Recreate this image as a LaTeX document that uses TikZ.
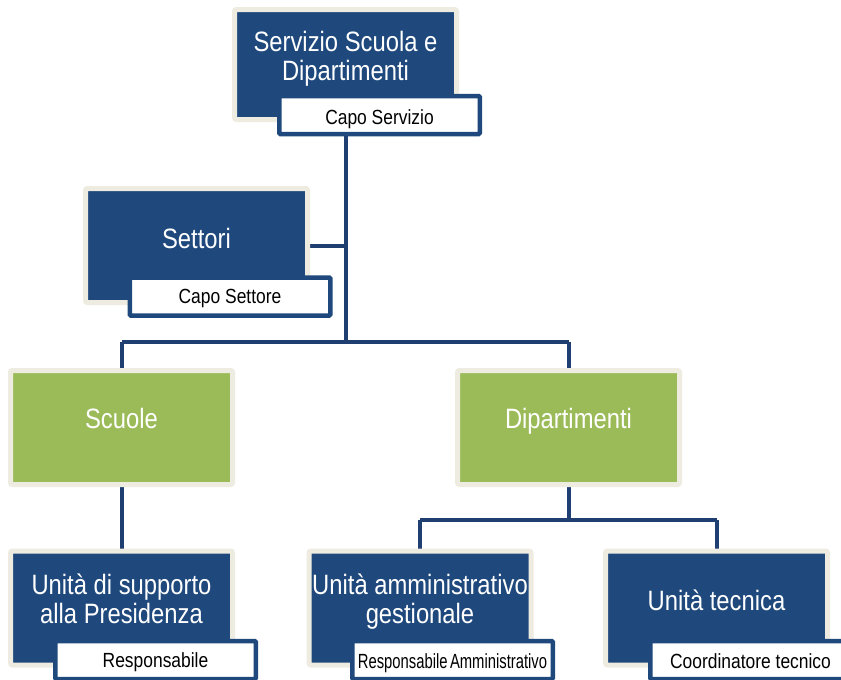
\documentclass[tikz,border=0pt]{standalone}
\usepackage{fontspec}
\setmainfont{Liberation Sans}
\newfontfamily\nf[FakeStretch=0.85]{Liberation Sans}
\usetikzlibrary{backgrounds}
\definecolor{boxblue}{HTML}{1F497D}
\definecolor{boxgreen}{HTML}{9BBB59}
\definecolor{cream}{HTML}{EEECE1}
\definecolor{connblue}{HTML}{1F3F72}
\begin{document}
\begin{tikzpicture}[x=1pt,y=-1pt,
  mainbox/.style={draw=cream, line width=5pt, fill=boxblue, minimum width=222pt, minimum height=114pt, inner sep=0pt, outer sep=0pt, rounded corners=2pt},
  greenbox/.style={mainbox, fill=boxgreen},
  labbox/.style={draw=boxblue, line width=4.5pt, fill=white, minimum width=200.5pt, minimum height=38pt, inner sep=0pt, outer sep=0pt, rounded corners=1pt},
  maintxt/.style={text=white, font=\nf\fontsize{28}{29}\selectfont, align=center, inner sep=0pt},
  labtxt/.style={text=black, font=\nf\fontsize{20.5}{22}\selectfont, inner sep=0pt, anchor=base},
  conn/.style={draw=connblue, line width=4pt}
]
\useasboundingbox (0,0) rectangle (841,680);

% boxes
\node[mainbox, minimum height=110pt] (top) at (345.5,64.5) {};
\node[labbox] (toplab) at (379.5,115) {};
\node[mainbox] (set) at (196.5,245.5) {};
\node[labbox] (setlab) at (230,296.5) {};
\node[greenbox] (scu) at (121.5,427.5) {};
\node[greenbox] (dip) at (568.5,427.5) {};
\node[mainbox] (usp) at (121.5,608) {};
\node[labbox] (usplab) at (155.5,660) {};
\node[mainbox] (uam) at (420,608) {};
\node[labbox] (uamlab) at (452.5,660) {};
\node[mainbox] (ut) at (716.5,608) {};
\node[labbox] (utlab) at (750.5,660) {};

% texts
\node[maintxt] (toptxt) at (345.5,59) {Servizio Scuola e\\Dipartimenti};
\node[labtxt] (toplabtxt) at (379.5,124) {Capo Servizio};
\node[maintxt, anchor=base] (settxt) at (196.5,248) {Settori};
\node[labtxt] (setlabtxt) at (230,303.5) {Capo Settore};
\node[maintxt, anchor=base] (scutxt) at (121.5,428) {Scuole};
\node[maintxt, anchor=base] (diptxt) at (568.5,428) {Dipartimenti};
\node[maintxt] (usptxt) at (121.5,599) {Unità di supporto\\alla Presidenza};
\node[labtxt] (usplabtxt) at (155.5,667) {Responsabile};
\node[maintxt] (uamtxt) at (420,602) {Unità amministrativo\\gestionale};
\node[labtxt] (uamlabtxt) at (452.5,668) {\scalebox{0.85}[1]{Responsabile\hspace{-2pt} Amministrativo}};
\node[maintxt, anchor=base] (uttxt) at (716.5,610) {Unità tecnica};
\node[labtxt] (utlabtxt) at (750.5,668) {Coordinatore tecnico};

% connectors
\coordinate (bus) at (345.5,342);
\coordinate (bus2) at (568.5,520);
\begin{scope}[on background layer]
\fill[white] (0,0) rectangle (841,680);
\draw[conn] (toplab.south -| top.center) -- (bus);
\draw[conn] (set.east) -- (set.east -| top.center);
\draw[conn] (scu.north |- bus) -- (dip.north |- bus);
\draw[conn] (scu.north |- bus) -- (scu.north);
\draw[conn] (dip.north |- bus) -- (dip.north);
\draw[conn] (scu.south) -- (usp.north);
\draw[conn] (dip.south) -- (bus2);
\draw[conn] (uam.north |- bus2) -- (ut.north |- bus2);
\draw[conn] (uam.north |- bus2) -- (uam.north);
\draw[conn] (ut.north |- bus2) -- (ut.north);
\end{scope}
\end{tikzpicture}
\end{document}
